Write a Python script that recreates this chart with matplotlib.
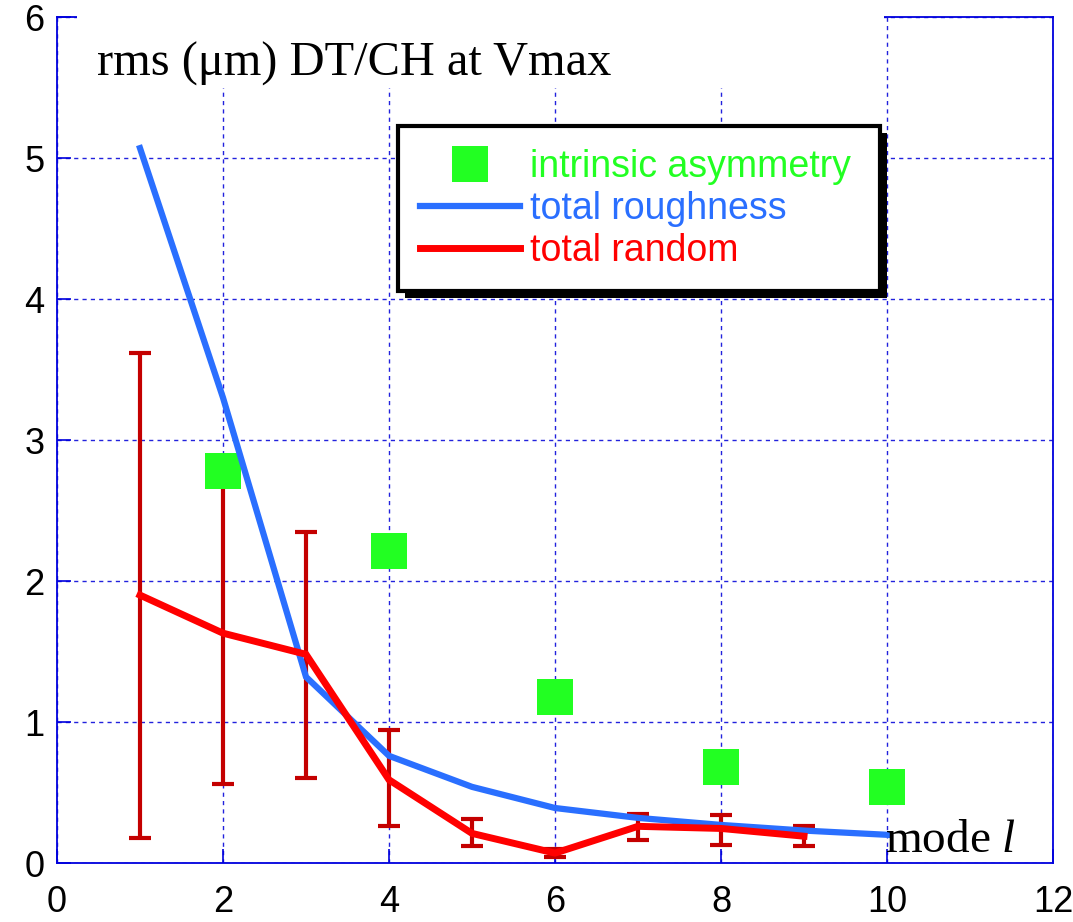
import matplotlib
matplotlib.use("Agg")
import matplotlib.pyplot as plt
import matplotlib.patheffects as pe
from matplotlib.patches import Rectangle
import numpy as np

# ---- data ----
modes = [1, 2, 3, 4, 5, 6, 7, 8, 9, 10]
roughness = [5.07, 3.30, 1.32, 0.76, 0.54, 0.39, 0.32, 0.27, 0.23, 0.20]

rand_modes = [1, 2, 3, 4, 5, 6, 7, 8, 9]
random_total = [1.90, 1.63, 1.48, 0.59, 0.21, 0.07, 0.26, 0.245, 0.19]
random_hi = [3.62, 2.80, 2.35, 0.94, 0.31, 0.10, 0.35, 0.34, 0.26]
random_lo = [0.18, 0.56, 0.60, 0.26, 0.12, 0.04, 0.16, 0.13, 0.12]

asym_modes = [2, 4, 6, 8, 10]
asym_vals = [2.78, 2.21, 1.18, 0.68, 0.54]

xticks = [0, 2, 4, 6, 8, 10, 12]
yticks = [0, 1, 2, 3, 4, 5, 6]

GREEN = '#22ff22'
BLUE = '#2a6fff'
RED = '#ff0000'
DARKRED = '#c40000'
AXBLUE = '#0000dd'

plt.rcParams['mathtext.fontset'] = 'custom'
plt.rcParams['mathtext.rm'] = 'Liberation Serif'
plt.rcParams['mathtext.it'] = 'Liberation Serif:italic'

fig = plt.figure(figsize=(10.73, 9.22), dpi=100)
ax = fig.add_axes([57/1073, 1-863/922, 996/1073, 846/922])
ax.set_xlim(0, 12)
ax.set_ylim(0, 6)
ax.set_xticks(xticks)
ax.set_yticks(yticks)
ax.set_xticklabels([str(v) for v in xticks], family='Liberation Sans', fontsize=26)
ax.set_yticklabels([str(v) for v in yticks], family='Liberation Sans', fontsize=26)
ax.tick_params(axis='both', direction='in', length=10, width=1.2, color=AXBLUE)
ax.tick_params(axis='x', pad=16)
ax.tick_params(axis='y', pad=9)
for s in ax.spines.values():
    s.set_color(AXBLUE)
    s.set_linewidth(1.3)

ax.set_axisbelow(True)
ax.grid(True, color='#2222dd', linestyle=(0, (3, 3)), linewidth=1.0)

# error bars
r = np.array(random_total)
yerr = [r - np.array(random_lo), np.array(random_hi) - r]
ax.errorbar(rand_modes, random_total, yerr=yerr, fmt='none', ecolor=DARKRED,
            elinewidth=3, capsize=8, capthick=3, zorder=3)

sq = ax.plot(asym_modes, asym_vals, linestyle='none', marker='s', markersize=26,
             color=GREEN, markeredgewidth=0, zorder=4, label='intrinsic asymmetry')[0]
bl = ax.plot(modes, roughness, color=BLUE, linewidth=4.5, zorder=5,
             solid_joinstyle='miter', label='total roughness')[0]
rd = ax.plot(rand_modes, random_total, color=RED, linewidth=5, zorder=6,
             solid_joinstyle='miter', label='total random')[0]

# white box behind title hiding grid/top spine
ax.add_patch(Rectangle((0.02, 0.916), 0.81, 0.1, transform=ax.transAxes,
                       facecolor='white', edgecolor='none', zorder=2.6, clip_on=False))
ax.text(0.040, 0.931, 'rms (μm) DT/CH at Vmax', transform=ax.transAxes,
        family='Liberation Serif', fontsize=34.8, va='baseline', ha='left', zorder=7)
ax.text(0.831, 0.013, r'mode $\mathit{l}$', transform=ax.transAxes,
        family='Liberation Serif', fontsize=34, va='baseline', ha='left', zorder=7)

leg_h = 0.19
leg = ax.legend(handles=[sq, bl, rd], loc='upper left',
                bbox_to_anchor=(0.342, 0.871 - leg_h, 0.484, leg_h), mode='expand',
                prop={'family': 'Liberation Sans', 'size': 27}, frameon=True,
                fancybox=False, framealpha=1, edgecolor='black', handlelength=2.67,
                handletextpad=0.25, labelspacing=0.16, borderpad=0.6, borderaxespad=0,
                markerscale=1.0)
leg.get_frame().set_linewidth(3)
leg.get_frame().set_path_effects([pe.SimplePatchShadow(offset=(5, -5), shadow_rgbFace='black', alpha=1),
                                  pe.Normal()])
leg.set_zorder(10)
for t, c in zip(leg.get_texts(), [GREEN, BLUE, RED]):
    t.set_color(c)

fig.savefig('out.png', dpi=100, facecolor='white')
